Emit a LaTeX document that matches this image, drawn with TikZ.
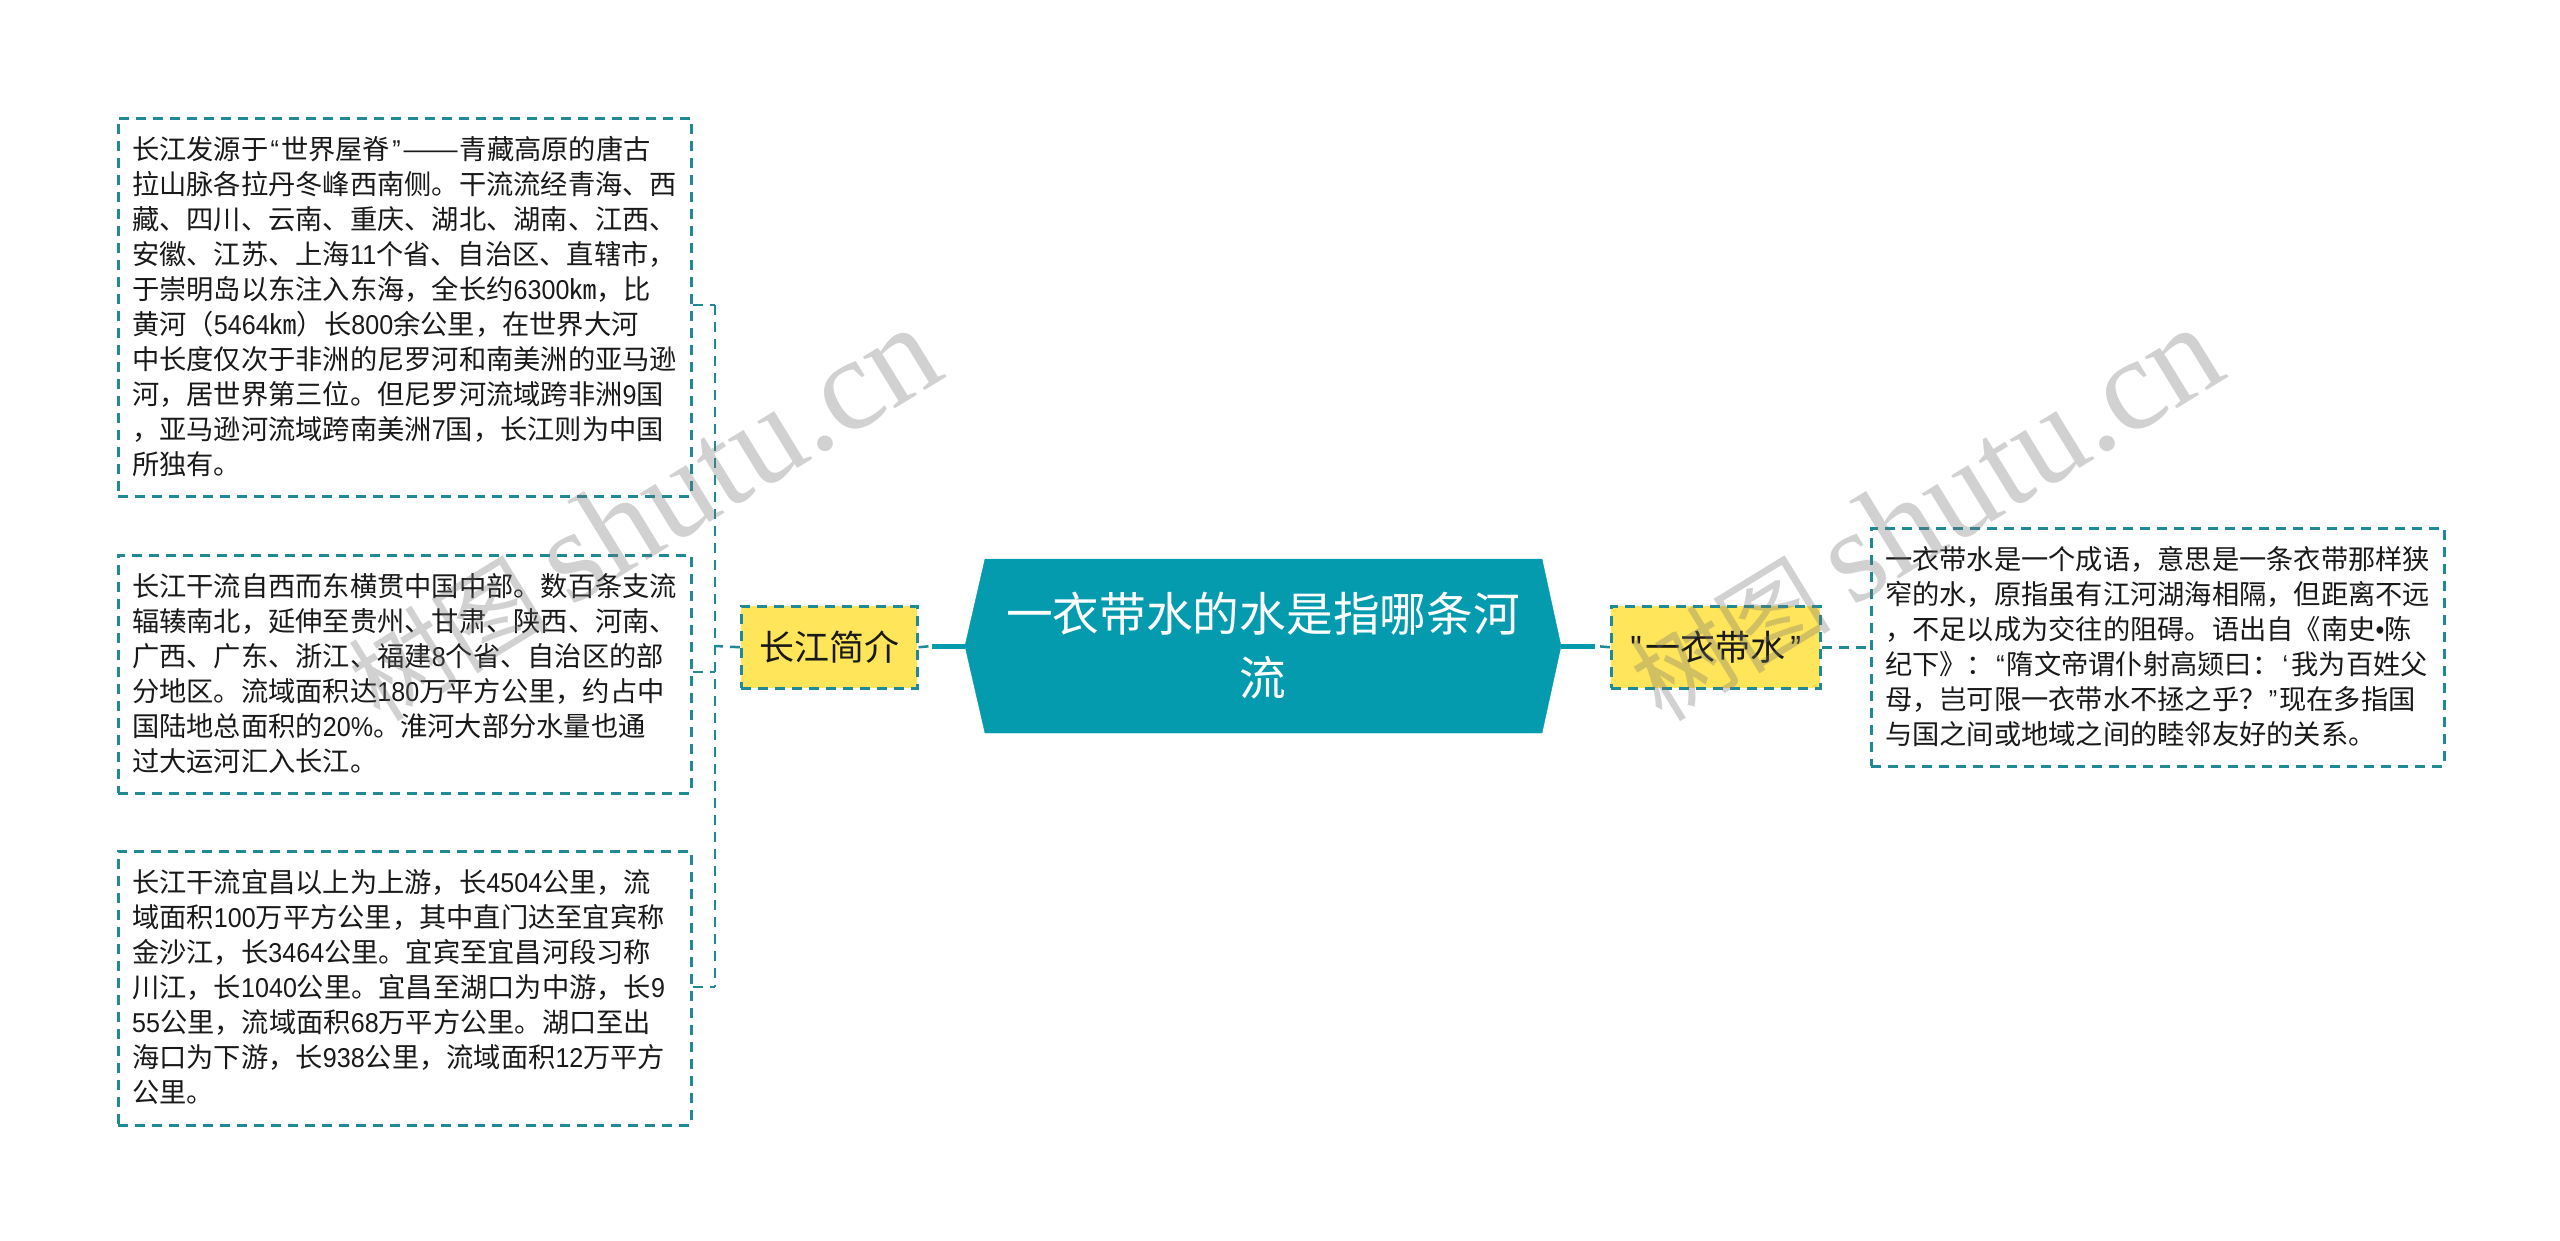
\documentclass[tikz,border=0pt]{standalone}
\usepackage{fontspec}
\setmainfont{Noto Sans CJK SC}
\newfontfamily\latf[FakeStretch=0.92]{Liberation Sans}
\newfontfamily\wmlat{Liberation Serif}
\newcommand{\lt}[1]{{\latf #1}}
\newcommand{\qo}{\kern.08em{\latf “}\kern.08em}
\newcommand{\qc}{\kern.08em{\latf ”}\kern.08em}
\newcommand{\so}{\kern.12em{\latf ‘}\kern.12em}
\definecolor{teal1}{HTML}{049BAE}
\definecolor{teal2}{HTML}{1F8A96}
\definecolor{yel}{HTML}{FFE55A}
\tikzset{
 x=1pt,y=-1pt,
 leaf/.style={draw=teal2,line width=2.5pt,dash pattern=on 10pt off 7pt,fill=white,inner sep=0pt,anchor=north west},
 leaftxt/.style={align=left,anchor=north west,inner sep=0pt,font=\fontsize{27.25}{35}\selectfont,text=black!90},
 topic/.style={draw=teal2,line width=2.5pt,dash pattern=on 10pt off 7pt,fill=yel,inner sep=0pt,anchor=north west,font=\fontsize{35}{40}\selectfont,text=black!90},
 thin/.style={draw=teal2,line width=2.5pt,dash pattern=on 10pt off 7pt},
 thick/.style={draw=teal1,line width=5pt},
 wm/.style={rotate=31.5,text=black!55,opacity=.32,inner sep=0pt},
}
\begin{document}
\begin{tikzpicture}
\useasboundingbox (0,0) rectangle (2560,1240);
\fill[white] (0,0) rectangle (2560,1240);
% connector ends
\coordinate (busT) at (715,305);
\coordinate (busB) at (715,987);
\coordinate (busM) at (715,672);
\coordinate (busC) at (715,646);
\coordinate (lstub) at (932,646);
\coordinate (rstub) at (1595,646);
% leaves
\node[leaf,minimum width=573pt,minimum height=378pt] (b1) at (117,117) {};
\node[leaf,minimum width=573pt,minimum height=238pt] (b2) at (117,554) {};
\node[leaf,minimum width=573pt,minimum height=274pt] (b3) at (117,850) {};
\node[leaf,minimum width=573pt,minimum height=238pt] (b4) at (1870,527) {};
% topics
\node[topic,minimum width=176pt,minimum height=82pt] (t1) at (740,605) {长江简介};
\node[topic,minimum width=209pt,minimum height=82pt] (t2) at (1610,605) {\lt{"}\kern.1em 一衣带水\kern.15em\lt{”}};
% central
\draw[fill=teal1,draw=teal1] (965,646) -- (985,559) -- (1542,559) -- (1561,646) -- (1542,733) -- (985,733) -- cycle;
\node[align=center,text=white,font=\fontsize{46.7}{64}\selectfont,inner sep=0pt] (c) at (1263,646) {一衣带水的水是指哪条河\\流};
% connectors
\draw[thick] (965,646) -- (lstub);
\draw[thin] (t1.east) -- (lstub);
\draw[thin] (t1.west) -- (busC);
\draw[thin] (busT) -- (busB);
\draw[thin] (b1.east |- busT) -- (busT);
\draw[thin] (b2.east |- busM) -- (busM);
\draw[thin] (b3.east |- busB) -- (busB);
\draw[thick] (1561,646) -- (rstub);
\draw[thin] (t2.west) -- (rstub);
\draw[thin] (t2.east) -- (b4.west);
% texts
\node[leaftxt] (x1) at (132,136) {长江发源于\qo 世界屋脊\qc \scalebox{1.25}[1]{——}青藏高原的唐古\\拉山脉各拉丹冬峰西南侧。干流流经青海、西\\藏、四川、云南、重庆、湖北、湖南、江西、\\安徽、江苏、上海\lt{11}个省、自治区、直辖市，\\于崇明岛以东注入东海，全长约\lt{6300}㎞，比\\黄河（\lt{5464}㎞）长\lt{800}余公里，在世界大河\\中长度仅次于非洲的尼罗河和南美洲的亚马逊\\河，居世界第三位。但尼罗河流域跨非洲\lt{9}国\\，亚马逊河流域跨南美洲\lt{7}国，长江则为中国\\所独有。};
\node[leaftxt] (x2) at (132,573) {长江干流自西而东横贯中国中部。数百条支流\\辐辏南北，延伸至贵州、甘肃、陕西、河南、\\广西、广东、浙江、福建\lt{8}个省、自治区的部\\分地区。流域面积达\lt{180}万平方公里，约占中\\国陆地总面积的\lt{20\%}。淮河大部分水量也通\\过大运河汇入长江。};
\node[leaftxt] (x3) at (132,869) {长江干流宜昌以上为上游，长\lt{4504}公里，流\\域面积\lt{100}万平方公里，其中直门达至宜宾称\\金沙江，长\lt{3464}公里。宜宾至宜昌河段习称\\川江，长\lt{1040}公里。宜昌至湖口为中游，长\lt{9}\\\lt{55}公里，流域面积\lt{68}万平方公里。湖口至出\\海口为下游，长\lt{938}公里，流域面积\lt{12}万平方\\公里。};
\node[leaftxt] (x4) at (1885,546) {一衣带水是一个成语，意思是一条衣带那样狭\\窄的水，原指虽有江河湖海相隔，但距离不远\\，不足以成为交往的阻碍。语出自《南史\lt{•}陈\\纪下》：\qo 隋文帝谓仆射高颎曰：\so 我为百姓父\\母，岂可限一衣带水不拯之乎？\qc 现在多指国\\与国之间或地域之间的睦邻友好的关系。};
% watermarks
\node[wm,font=\fontsize{100}{120}\selectfont] (w1) at (643,514) {树图 {\wmlat\fontsize{132}{132}\selectfont shutu.cn}};
\node[wm,font=\fontsize{100}{120}\selectfont] (w2) at (1925,514) {树图 {\wmlat\fontsize{132}{132}\selectfont shutu.cn}};
\end{tikzpicture}
\end{document}
